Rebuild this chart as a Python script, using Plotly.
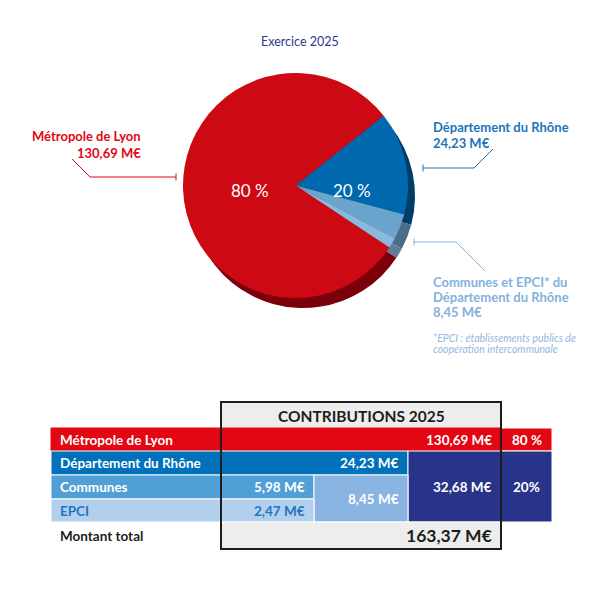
import plotly.graph_objects as go

# ---------------- data ----------------
pie_labels = ["Département du Rhône", "Communes", "EPCI", "Métropole de Lyon"]
pie_values = [24.23, 5.98, 2.47, 130.69]
pie_colors = ["#0068AD", "#6AA3CC", "#8BB9DD", "#CD0914"]
pie_shadow_colors = ["#003D68", "#4A6C87", "#5E7D97", "#7A0009"]
pct_labels = ["80 %", "20 %"]

title_text = "Exercice 2025"
table_title = "CONTRIBUTIONS 2025"
row_labels = ["Métropole de Lyon", "Département du Rhône", "Communes", "EPCI", "Montant total"]
metropole, departement, communes, epci = 130.69, 24.23, 5.98, 2.47
share_labels = ["80 %", "20%"]
footnote = ["*EPCI : établissements publics de", "coopération intercommunale"]


def meur(v):
    return f"{v:,.2f}".replace(",", " ").replace(".", ",") + " M€"


communes_epci = communes + epci
rhone_total = departement + communes_epci
grand_total = metropole + rhone_total

FONT = "Lato"
RED = "#E30613"
BLUE = "#0071BA"
LBLUE = "#1F76BE"
PALE = "#84B1DD"

fig = go.Figure()

W = 600.0


def px(x):
    return x / W


def py(y):
    return 1 - y / W


# shadow pie (3D extrusion)
fig.add_trace(go.Pie(
    labels=pie_labels, values=pie_values, sort=False, direction="clockwise",
    rotation=51.5, textinfo="none", hoverinfo="skip", showlegend=False,
    marker=dict(colors=pie_shadow_colors, line=dict(width=0)),
    domain=dict(x=[px(191), px(415)], y=[py(308), py(84)]),
))
# main pie
fig.add_trace(go.Pie(
    labels=pie_labels, values=pie_values, sort=False, direction="clockwise",
    rotation=51.5, textinfo="none", showlegend=False,
    marker=dict(colors=pie_colors, line=dict(width=0)),
    domain=dict(x=[px(183), px(408)], y=[py(298), py(73)]),
))

shapes = []
ann = []


def text(x, y, s, color, size, xanchor="left", bold=True, italic=False):
    t = s
    if bold:
        t = f"<b>{t}</b>"
    if italic:
        t = f"<i>{t}</i>"
    ann.append(dict(x=x, y=y, xref="x", yref="y", text=t, showarrow=False,
                    xanchor=xanchor, yanchor="middle",
                    font=dict(family=FONT, size=size, color=color)))


def rect(x0, y0, x1, y1, fill, line="white", lw=1):
    shapes.append(dict(type="rect", xref="x", yref="y", x0=x0, y0=y0, x1=x1, y1=y1,
                       fillcolor=fill, line=dict(color=line, width=lw), layer="below"))


def path(d, color, lw=1):
    shapes.append(dict(type="path", xref="x", yref="y", path=d,
                       line=dict(color=color, width=lw)))


# title
text(300, 41, title_text, "#2B3990", 12.5, "center", bold=False)

# pie percentage labels
text(250, 190, pct_labels[0], "white", 17, "center", bold=False)
text(352, 190, pct_labels[1], "white", 17, "center", bold=False)

# callouts
text(143, 136, "Métropole de Lyon", RED, 13, "right")
text(143, 153, meur(metropole), RED, 13, "right")
path("M 72,159 L 90,177 L 176,177", RED)
path("M 176,173.5 L 176,180.5", RED)

text(431, 127, "Département du Rhône", "#1B75BB", 13, "left")
text(431, 143, meur(departement), "#1B75BB", 13, "left")
path("M 493,149 L 474,168 L 423,168", "#1B75BB")
path("M 423,164.5 L 423,171.5", "#1B75BB")

text(431, 282, "Communes et EPCI* du", PALE, 13, "left")
text(431, 297, "Département du Rhône", PALE, 13, "left")
text(431, 312, meur(communes_epci), PALE, 13, "left")
path("M 414,242 L 456,242 L 485,271", PALE)
path("M 414,238.5 L 414,245.5", PALE)
text(431, 338, footnote[0], "#94B8E2", 10.5, "left", bold=False, italic=True)
text(431, 349, footnote[1], "#94B8E2", 10.5, "left", bold=False, italic=True)

# ---------------- table ----------------
L, C1, C2, C3, C4, R = 51, 221, 314, 408, 501, 552
Y0, Y1, Y2, Y3, Y4, Y5, Y6 = 402, 428, 451, 475, 499, 522, 549

rect(C1, Y0, C4, Y1, "#EDEDED")
# Métropole row
rect(L, Y1, C4, Y2, RED, RED)
rect(C4, Y1, R, Y2, RED)
# Département row
rect(L, Y2, C1, Y3, BLUE)
rect(C1, Y2, C3, Y3, BLUE)
rect(C3, Y2, C4, Y5, "#283489")
rect(C4, Y2, R, Y5, "#283489")
# Communes row
rect(L, Y3, C1, Y4, "#519FD7")
rect(C1, Y3, C2, Y4, "#519FD7")
rect(C2, Y3, C3, Y5, "#89B4E1")
# EPCI row
rect(L, Y4, C1, Y5, "#B3CFEE")
rect(C1, Y4, C2, Y5, "#B3CFEE")
# Total row
rect(C1, Y5, C4, Y6, "#EDEDED")
# black frame
shapes.append(dict(type="rect", xref="x", yref="y", x0=C1, y0=Y0, x1=C4, y1=Y6,
                   fillcolor="rgba(0,0,0,0)", line=dict(color="#1D1D1B", width=2)))

lx = 58
text((C1 + C4) / 2, (Y0 + Y1) / 2 + 1, table_title, "#1D1D1B", 15.5, "center")
text(lx, (Y1 + Y2) / 2, row_labels[0], "white", 13.5)
text(lx, (Y2 + Y3) / 2, row_labels[1], "white", 13.5)
text(lx, (Y3 + Y4) / 2, row_labels[2], "white", 13.5)
text(lx, (Y4 + Y5) / 2, row_labels[3], LBLUE, 13.5)
text(lx, (Y5 + Y6) / 2, row_labels[4], "#1D1D1B", 13.5)

text(C4 - 7, (Y1 + Y2) / 2, meur(metropole), "white", 13.5, "right")
text((C4 + R) / 2, (Y1 + Y2) / 2, share_labels[0], "white", 13.5, "center")
text(C3 - 7, (Y2 + Y3) / 2, meur(departement), "white", 13.5, "right")
text(C2 - 7, (Y3 + Y4) / 2, meur(communes), "white", 13.5, "right")
text(C2 - 7, (Y4 + Y5) / 2, meur(epci), LBLUE, 13.5, "right")
text(C3 - 7, (Y3 + Y5) / 2, meur(communes_epci), "white", 13.5, "right")
text(C4 - 7, (Y2 + Y5) / 2, meur(rhone_total), "white", 13.5, "right")
text((C4 + R) / 2, (Y2 + Y5) / 2, share_labels[1], "white", 13.5, "center")
text(C4 - 7, (Y5 + Y6) / 2, meur(grand_total), "#1D1D1B", 17.5, "right")

fig.update_layout(
    width=600, height=600, margin=dict(l=0, r=0, t=0, b=0),
    paper_bgcolor="white", plot_bgcolor="rgba(0,0,0,0)",
    xaxis=dict(range=[0, 600], visible=False, fixedrange=True),
    yaxis=dict(range=[600, 0], visible=False, fixedrange=True),
    shapes=shapes, annotations=ann, showlegend=False,
)

fig.write_html("out.html", config={"displayModeBar": False},
               post_script="document.body.style.margin='0px';")
